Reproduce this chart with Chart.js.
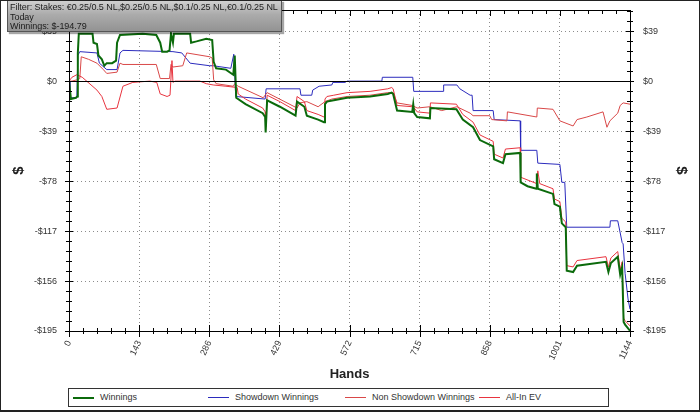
<!DOCTYPE html>
<html>
<head>
<meta charset="utf-8">
<script src="https://cdn.jsdelivr.net/npm/chart.js@4.4.0/dist/chart.umd.min.js"></script>
<style>
  html, body { margin: 0; padding: 0; background: #fff; }
  #wrap { position: relative; width: 700px; height: 412px; overflow: hidden; font-family: "Liberation Sans", Arial, sans-serif; }
  #chart { position: absolute; left: 0; top: 0; }
  #frame { position: absolute; left: 0; top: 0; width: 700px; height: 412px; box-sizing: border-box;
           border: 1px solid #222; border-bottom-width: 2px; pointer-events: none; }
  #filter { position: absolute; left: 7px; top: 0; width: 275px; height: 32px; box-sizing: border-box;
            border: 1px solid #555; background: linear-gradient(#d0d0d0, #ababab 45%, #939393);
            box-shadow: 2px 2px 1px rgba(0,0,0,0.35); padding: 2px 0 0 2px;
            font-size: 9px; line-height: 9.5px; color: #1c1c1c; white-space: nowrap; letter-spacing: -0.05px; }
  #legend { position: absolute; left: 68px; top: 388px; width: 541px; height: 19px; box-sizing: border-box;
            border: 1px solid #333; background: #fff; font-size: 9px; color: #333; }
  .item { position: absolute; top: 0; height: 17px; line-height: 17px; white-space: nowrap; }
  .swatch { display: inline-block; width: 21px; vertical-align: middle; margin-right: 6px; }
</style>
</head>
<body>
<div id="wrap">
  <canvas id="chart" width="700" height="412"></canvas>
  <div id="filter">Filter: Stakes: €0.25/0.5 NL,$0.25/0.5 NL,$0.1/0.25 NL,€0.1/0.25 NL<br>Today<br>Winnings: $-194.79</div>
  <div id="legend"></div>
  <div id="frame"></div>
</div>
<script>
// tick labels
const xTickValues = [0, 143, 286, 429, 572, 715, 858, 1001, 1144];
const xTickLabels = ['0', '143', '286', '429', '572', '715', '858', '1001', '1144'];
const yTickValues = [-195, -156, -117, -78, -39, 0, 39];
const yTickLabels = ['-$195', '-$156', '-$117', '-$78', '-$39', '$0', '$39'];

// Winnings
const winHands = [0, 4, 14, 17, 18, 20, 48, 50, 57, 60, 67, 72, 77, 88, 96, 98, 104, 150, 178, 186, 190, 200, 205, 208, 212, 214,
  247, 249, 260, 280, 292, 295, 300, 320, 335, 338, 341, 360, 395, 400, 401, 404, 430, 462, 465, 480, 485, 508, 520, 522, 526,
  540, 567, 614, 650, 658, 661, 669, 700, 702, 704, 710, 736, 737, 790, 803, 824, 838, 865, 867, 885, 890, 920, 921, 935, 953,
  954, 956, 987, 990, 1001, 1005, 1013, 1015, 1028, 1036, 1095, 1100, 1105, 1119, 1124, 1128, 1131, 1134, 1144];
const winValues = [0, -14, -13, -12, 22, 37, 37, 30, 29, 20, 17, 12, 14, 14, 16, 30, 36, 37, 36, 30, 23, 23, 24, 37, 30, 37,
  37, 30, 31, 33, 32, 15, 10, 9, 5, 20, -13, -18, -25, -28, -40, -15, -20, -27, -16, -20, -27, -30, -32, -18, -16,
  -15, -13, -12, -10, -9, -10, -23, -24, -18, -25, -28, -29, -21, -22, -30, -36, -46, -51, -61, -64, -57, -56, -79, -82, -84,
  -72, -84, -88, -96, -98, -111, -114, -148, -149, -144, -141, -149, -142, -137, -151, -145, -188, -190, -194.79];

// Showdown Winnings
const sdHands = [0, 2, 16, 18, 22, 57, 62, 77, 98, 104, 110, 212, 230, 247, 287, 294, 330, 336, 340, 400, 402, 471, 473, 495,
  497, 510, 536, 538, 563, 567, 638, 639, 701, 703, 763, 764, 791, 797, 818, 822, 824, 865, 867, 920, 921, 954, 956, 1001,
  1005, 1011, 1015, 1103, 1104, 1119, 1128, 1130, 1134, 1140, 1144];
const sdValues = [0, -13, -13, 20, 23, 22, 14, 9, 9, 22, 24, 23, 22, 14, 12, 12, 10, 21, -12, -14, -6, -6, -11, -11,
  -7, -4, -3, -1, -1, 0, 0, 3, 3, -8, -8, -3, -3, -6, -11, -11, -23, -23, -30, -31, -54, -54, -64, -65,
  -79, -79, -114, -114, -109, -109, -126, -127, -150, -170, -178];

// Non Showdown Winnings
const nsHands = [0, 6, 16, 22, 25, 40, 57, 70, 77, 98, 104, 110, 178, 186, 205, 208, 212, 232, 240, 287, 292, 295, 300, 335,
  338, 341, 345, 396, 404, 465, 471, 485, 508, 522, 536, 567, 614, 650, 661, 669, 700, 710, 736, 760, 791, 818, 824, 858,
  862, 893, 894, 954, 955, 987, 1001, 1028, 1036, 1056, 1089, 1097, 1103, 1119, 1124, 1130, 1144];
const nsValues = [0, 0, 1, 2, 19, 17, 14, 9, 6, 7, 14, 13, 13, 2, 2, 13, 11, 12, 22, 19, 18, 1, -2, -4,
  -2, -3, -4, -13, -9, -21, -17, -16, -20, -16, -14, -12, -11, -9, -9, -17, -19, -21, -20, -23, -20, -25, -27, -27,
  -30, -31, -24, -28, -21, -22, -31, -35, -30, -28, -24, -36, -31, -25, -19, -17, -18];

// All-In EV
const evHands = [0, 6, 16, 27, 57, 67, 77, 98, 110, 130, 165, 179, 186, 200, 206, 210, 212, 216, 267, 280, 294, 320, 343,
  345, 360, 395, 400, 401, 404, 430, 462, 465, 480, 485, 508, 520, 522, 526, 540, 567, 614, 650, 658, 661, 669, 700, 704,
  710, 736, 737, 790, 803, 824, 838, 865, 867, 885, 890, 920, 921, 954, 956, 960, 987, 990, 1001, 1005, 1013, 1015, 1028,
  1036, 1095, 1100, 1105, 1119, 1124, 1128, 1131, 1134, 1144];
const evValues = [0, 3, 5, 3, -7, -12, -22, -21, -4, -1, 0, -1, -10, -12, -11, 16, -1, 0, 0, -2, -3, -4, -5,
  -10, -14, -21, -24, -36, -11, -16, -23, -12, -16, -23, -26, -28, -14, -12, -11, -9, -8, -6, -5, -6, -19, -20, -21,
  -24, -25, -17, -18, -26, -32, -42, -47, -57, -60, -53, -52, -75, -80, -70, -80, -84, -92, -94, -107, -110, -144, -145,
  -140, -137, -145, -138, -133, -147, -141, -185, -187, -191];

const FONT = '"Liberation Sans", Arial, sans-serif';

function points(hands, values) {
  return hands.map((h, i) => ({ x: h, y: values[i] }));
}

// keep the plot box where the original has it
function noPad(s) {
  s.paddingTop = 0; s.paddingBottom = 0; s.paddingLeft = 0; s.paddingRight = 0;
}

// axis lines, tick marks and the zero line, drawn from the scales
const axisFrame = {
  id: 'axisFrame',
  afterDatasetsDraw(chart) {
    const { ctx, chartArea: a, scales: { x, y } } = chart;
    const seg = (x1, y1, x2, y2) => { ctx.beginPath(); ctx.moveTo(x1, y1); ctx.lineTo(x2, y2); ctx.stroke(); };
    ctx.save();
    ctx.strokeStyle = '#000';
    ctx.lineWidth = 1;
    const y0 = Math.round(y.getPixelForValue(0)) + 0.5;
    seg(a.left, y0, a.right, y0);
    ctx.strokeRect(Math.round(a.left) + 0.5, Math.round(a.top) + 0.5, Math.round(a.right - a.left), Math.round(a.bottom - a.top));

    // y ticks every 7.8, majors every 39
    for (let i = 0; ; i++) {
      const v = y.min + i * 7.8;
      if (v > y.max) break;
      const py = Math.round(y.getPixelForValue(v)) + 0.5;
      const major = i % 5 === 0;
      const l = major ? 4 : 3;
      seg(a.left - l, py, a.left + l, py);
      seg(a.right - l, py, a.right + l, py);
    }
    // x ticks every 28.6, majors every 143
    for (let i = 0; i <= 40; i++) {
      const px = Math.round(x.getPixelForValue(i * 28.6)) + 0.5;
      const major = i % 5 === 0;
      seg(px, a.bottom - (major ? 6 : 3), px, a.bottom + (major ? 6 : 3));
      seg(px, a.top, px, a.top + (major ? 6 : 4));
    }
    ctx.restore();
  }
};

const chart = new Chart(document.getElementById('chart'), {
  type: 'line',
  data: {
    datasets: [
      { label: 'Winnings', data: points(winHands, winValues), borderColor: '#0b6a0b', borderWidth: 2, order: 0 },
      { label: 'Showdown Winnings', data: points(sdHands, sdValues), borderColor: '#2b2bbd', borderWidth: 1, order: 3 },
      { label: 'Non Showdown Winnings', data: points(nsHands, nsValues), borderColor: '#d94848', borderWidth: 1, order: 2 },
      { label: 'All-In EV', data: points(evHands, evValues), borderColor: '#e8343f', borderWidth: 1, order: 1 }
    ]
  },
  options: {
    responsive: false,
    animation: false,
    elements: { point: { radius: 0 }, line: { tension: 0 } },
    layout: { padding: { left: 10, right: 10, top: 10, bottom: 27 } },
    plugins: { legend: { display: false }, tooltip: { enabled: false } },
    scales: {
      x: {
        type: 'linear',
        min: 0,
        max: 1144,
        afterBuildTicks: s => { s.ticks = xTickValues.map(v => ({ value: v })); },
        afterFit: s => { s.height = 54; noPad(s); },
        ticks: {
          callback: (v, i) => xTickLabels[i],
          minRotation: 65,
          maxRotation: 65,
          padding: 8,
          color: '#333',
          font: { family: FONT, size: 9 }
        },
        grid: {
          drawTicks: false,
          color: c => (c.tick && (c.tick.value === 0 || c.tick.value === 1144)) ? 'rgba(0,0,0,0)' : '#8c8c8c'
        },
        border: { display: false, dash: [1, 3] },
        title: { display: true, text: 'Hands', color: '#222', font: { family: FONT, size: 13, weight: 'bold' }, padding: { top: 0, bottom: 3 } }
      },
      y: {
        type: 'linear',
        position: 'left',
        min: -195,
        max: 55.5,
        afterBuildTicks: s => { s.ticks = yTickValues.map(v => ({ value: v })); },
        afterFit: s => { s.width = 59; noPad(s); },
        ticks: {
          callback: (v, i) => yTickLabels[i],
          padding: 12,
          color: '#333',
          font: { family: FONT, size: 9 }
        },
        grid: {
          drawTicks: false,
          color: c => (c.tick && c.tick.value === 0) ? 'rgba(0,0,0,0)' : '#8c8c8c'
        },
        border: { display: false, dash: [1, 3] },
        title: { display: true, text: '$', color: '#222', font: { family: FONT, size: 15, weight: 'bold' }, padding: { top: 0, bottom: 4 } }
      },
      y2: {
        type: 'linear',
        position: 'right',
        min: -195,
        max: 55.5,
        afterBuildTicks: s => { s.ticks = yTickValues.map(v => ({ value: v })); },
        afterFit: s => { s.width = 60; noPad(s); },
        ticks: {
          callback: (v, i) => yTickLabels[i],
          padding: 13,
          color: '#333',
          font: { family: FONT, size: 9 }
        },
        grid: { display: false, drawTicks: false },
        border: { display: false },
        title: { display: true, text: '$', color: '#222', font: { family: FONT, size: 15, weight: 'bold' }, padding: { top: 0, bottom: 4 } }
      }
    }
  },
  plugins: [axisFrame]
});

// legend with fixed columns, like the original
const legendLeft = [4, 139, 276, 410];
const legend = document.getElementById('legend');
chart.data.datasets.forEach((ds, i) => {
  const item = document.createElement('div');
  item.className = 'item';
  item.style.left = legendLeft[i] + 'px';
  const sw = document.createElement('span');
  sw.className = 'swatch';
  sw.style.borderTop = (ds.borderWidth > 1 ? 2 : 1) + 'px solid ' + ds.borderColor;
  item.appendChild(sw);
  item.appendChild(document.createTextNode(ds.label));
  legend.appendChild(item);
});
</script>
</body>
</html>
